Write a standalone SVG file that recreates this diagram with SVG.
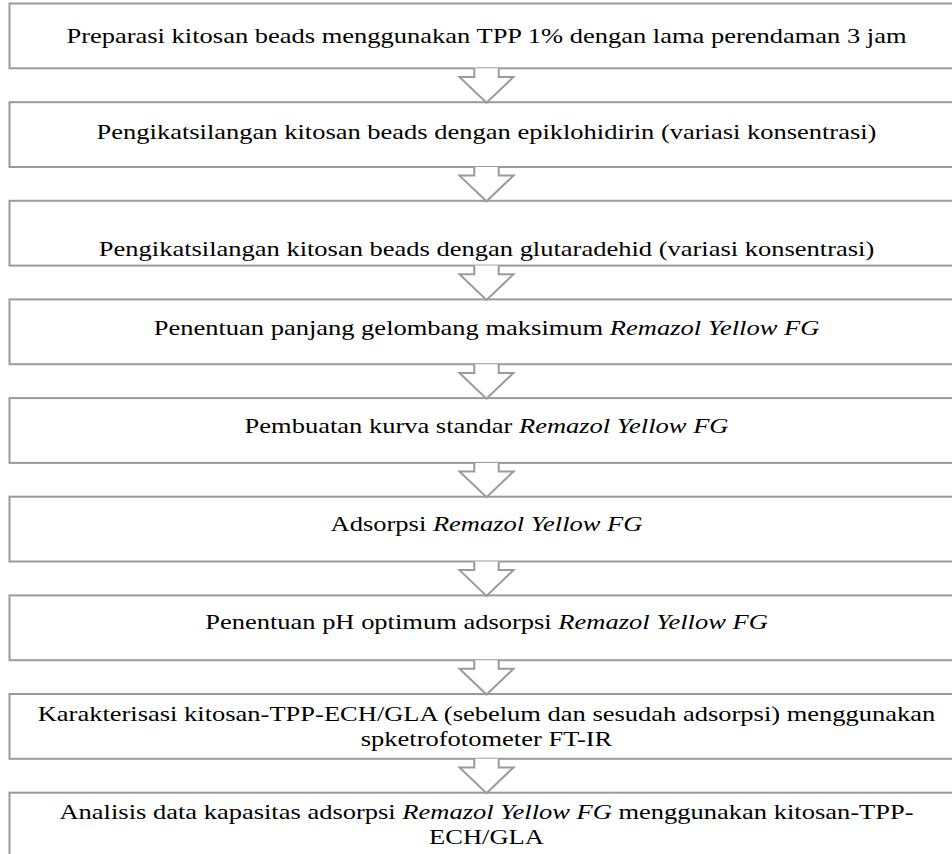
<svg xmlns="http://www.w3.org/2000/svg" width="952" height="854" viewBox="0 0 952 854">
<style>
.box{fill:#fff;stroke:#9a9a9a;stroke-width:2}
.arr{fill:#fff;stroke:#9a9a9a;stroke-width:2;stroke-linejoin:miter}
.t{font-family:"Liberation Serif","Times New Roman",serif;font-size:22px;fill:#000;text-anchor:middle}
.i{font-style:italic}
</style>
<rect x="0" y="0" width="952" height="854" fill="#fff"/>
<g id="n1"><rect class="box" x="9.5" y="3.5" width="970" height="64.8"/>
<text class="t" transform="translate(486.5,43.3) scale(1.205,1)">Preparasi kitosan beads menggunakan TPP 1% dengan lama perendaman 3 jam</text></g>
<g id="n2"><rect class="box" x="9.5" y="102.2" width="970" height="64.8"/>
<text class="t" transform="translate(486.5,139) scale(1.205,1)">Pengikatsilangan kitosan beads dengan epiklohidirin (variasi konsentrasi)</text></g>
<g id="n3"><rect class="box" x="9.5" y="200.8" width="970" height="64.8"/>
<text class="t" transform="translate(486.5,255.7) scale(1.205,1)">Pengikatsilangan kitosan beads dengan glutaradehid (variasi konsentrasi)</text></g>
<g id="n4"><rect class="box" x="9.5" y="299.4" width="970" height="64.8"/>
<text class="t" transform="translate(486.5,335) scale(1.205,1)">Penentuan panjang gelombang maksimum <tspan class="i">Remazol Yellow FG</tspan></text></g>
<g id="n5"><rect class="box" x="9.5" y="398.1" width="970" height="64.8"/>
<text class="t" transform="translate(486.5,433) scale(1.205,1)">Pembuatan kurva standar <tspan class="i">Remazol Yellow FG</tspan></text></g>
<g id="n6"><rect class="box" x="9.5" y="496.7" width="970" height="64.8"/>
<text class="t" transform="translate(486.5,531) scale(1.205,1)">Adsorpsi <tspan class="i">Remazol Yellow FG</tspan></text></g>
<g id="n7"><rect class="box" x="9.5" y="595.4" width="970" height="64.8"/>
<text class="t" transform="translate(486.5,629) scale(1.205,1)">Penentuan pH optimum adsorpsi <tspan class="i">Remazol Yellow FG</tspan></text></g>
<g id="n8"><rect class="box" x="9.5" y="694" width="970" height="64.8"/>
<text class="t" transform="translate(486.5,721) scale(1.205,1)">Karakterisasi kitosan-TPP-ECH/GLA (sebelum dan sesudah adsorpsi) menggunakan</text>
<text class="t" transform="translate(486.5,746) scale(1.205,1)">spketrofotometer FT-IR</text></g>
<g id="n9"><rect class="box" x="9.5" y="792.7" width="970" height="64.8"/>
<text class="t" transform="translate(486.5,819) scale(1.205,1)">Analisis data kapasitas adsorpsi <tspan class="i">Remazol Yellow FG</tspan> menggunakan kitosan-TPP-</text>
<text class="t" transform="translate(486.5,844) scale(1.205,1)">ECH/GLA</text></g>
<g id="connectors">
<path class="arr" d="M474.3,68.3 V77 H459.5 L486.5,102.7 L513.5,77 H498.7 V68.3"/>
<path class="arr" d="M474.3,167 V175.6 H459.5 L486.5,201.3 L513.5,175.6 H498.7 V167"/>
<path class="arr" d="M474.3,265.6 V274.2 H459.5 L486.5,299.9 L513.5,274.2 H498.7 V265.6"/>
<path class="arr" d="M474.3,364.2 V372.9 H459.5 L486.5,398.6 L513.5,372.9 H498.7 V364.2"/>
<path class="arr" d="M474.3,462.9 V471.5 H459.5 L486.5,497.2 L513.5,471.5 H498.7 V462.9"/>
<path class="arr" d="M474.3,561.5 V570.1 H459.5 L486.5,595.9 L513.5,570.1 H498.7 V561.5"/>
<path class="arr" d="M474.3,660.2 V668.8 H459.5 L486.5,694.5 L513.5,668.8 H498.7 V660.2"/>
<path class="arr" d="M474.3,758.8 V767.4 H459.5 L486.5,793.2 L513.5,767.4 H498.7 V758.8"/>
</g>
</svg>
